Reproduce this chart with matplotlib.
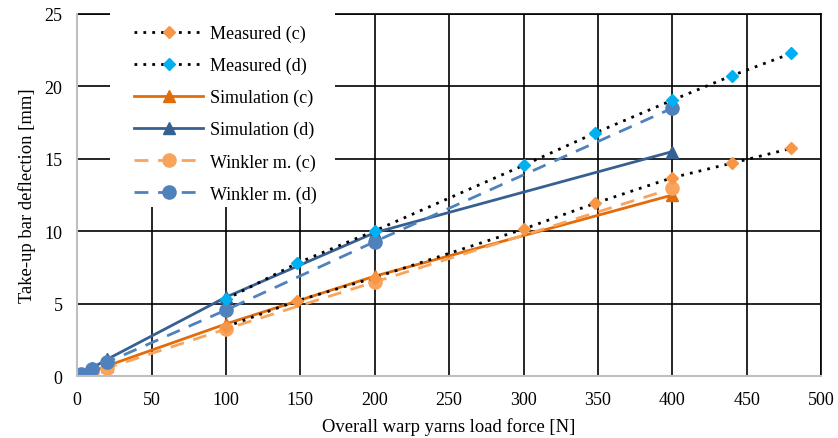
import matplotlib
matplotlib.use("Agg")
import matplotlib.pyplot as plt
from matplotlib.patches import Rectangle

# Data
meas_x = [100, 148, 200, 300, 348, 400, 440, 480]
meas_c = [3.4, 5.2, 6.8, 10.15, 11.93, 13.7, 14.7, 15.72]
meas_d = [5.3, 7.8, 10.03, 14.55, 16.78, 19.05, 20.74, 22.28]

sim_x = [0, 10, 20, 100, 200, 400]
sim_c = [0.0, 0.3, 0.7, 3.6, 6.9, 12.5]
sim_d = [0.0, 0.55, 1.15, 5.45, 9.9, 15.5]

wink_x = [2.5, 10, 20, 100, 200, 400]
wink_c = [0.0, 0.25, 0.55, 3.25, 6.5, 12.95]
wink_d = [0.12, 0.48, 0.95, 4.56, 9.28, 18.5]

xticks = [0, 50, 100, 150, 200, 250, 300, 350, 400, 450, 500]
yticks = [0, 5, 10, 15, 20, 25]

plt.rcParams['font.family'] = ['Liberation Serif', 'DejaVu Serif']

fig = plt.figure(figsize=(8.38, 4.39), dpi=100)
ax = fig.add_axes([0.092, 0.141, 0.888, 0.825])

c_meas_c = '#F79646'
c_meas_d = '#00B0F0'
c_sim_c = '#E36C0A'
c_sim_d = '#376092'
c_wink_c = '#F9A45C'
c_wink_d = '#4F81BD'

ax.plot(meas_x, meas_c, linestyle=(0, (1, 2.2)), color='black', lw=2.0,
        marker='D', markersize=6.5, markerfacecolor=c_meas_c, markeredgecolor=c_meas_c,
        label='Measured (c)', zorder=4)
ax.plot(meas_x, meas_d, linestyle=(0, (1, 2.2)), color='black', lw=2.0,
        marker='D', markersize=6.5, markerfacecolor=c_meas_d, markeredgecolor=c_meas_d,
        label='Measured (d)', zorder=4)
ax.plot(sim_x, sim_c, linestyle='-', color=c_sim_c, lw=2.0,
        marker='^', markersize=8, markerfacecolor=c_sim_c, markeredgecolor=c_sim_c,
        label='Simulation (c)', zorder=3)
ax.plot(sim_x, sim_d, linestyle='-', color=c_sim_d, lw=2.0,
        marker='^', markersize=8, markerfacecolor=c_sim_d, markeredgecolor=c_sim_d,
        label='Simulation (d)', zorder=3)
ax.plot(wink_x, wink_c, linestyle=(0, (5, 3.5)), color=c_wink_c, lw=2.0,
        marker='o', markersize=9.5, markerfacecolor=c_wink_c, markeredgecolor=c_wink_c,
        label='Winkler m. (c)', zorder=3)
ax.plot(wink_x, wink_d, linestyle=(0, (5, 3.5)), color=c_wink_d, lw=2.0,
        marker='o', markersize=9.5, markerfacecolor=c_wink_d, markeredgecolor=c_wink_d,
        label='Winkler m. (d)', zorder=3)

ax.set_xlim(0, 500)
ax.set_ylim(0, 25)
ax.set_xticks(xticks)
ax.set_yticks(yticks)
ax.tick_params(axis='both', length=0, labelsize=13, colors='black')
ax.tick_params(axis='x', pad=11)
ax.tick_params(axis='y', pad=10.5)
ax.grid(True, color='black', lw=1.2, zorder=0)
ax.set_axisbelow(True)

for side in ['top', 'right']:
    ax.spines[side].set_visible(True)
    ax.spines[side].set_color('black')
    ax.spines[side].set_linewidth(1.2)
for side in ['left', 'bottom']:
    ax.spines[side].set_color('#BFBFBF')
    ax.spines[side].set_linewidth(1.5)
    ax.spines[side].set_zorder(5)

ax.set_xlabel('Overall warp yarns load force [N]', fontsize=13.4, labelpad=6)
ax.set_ylabel('Take-up bar deflection [mm]', fontsize=13.4, labelpad=6)

# white legend background area
bg = Rectangle((0.0444, 0.467), 0.3024, 0.545, transform=ax.transAxes,
               facecolor='white', edgecolor='none', zorder=6, clip_on=False)
ax.add_patch(bg)

leg = ax.legend(loc='upper left', bbox_to_anchor=(0.0766, 0.970),
                borderaxespad=0, frameon=False,
                fontsize=13, handlelength=3.83, labelspacing=0.82,
                handletextpad=0.4, borderpad=0)
leg.set_zorder(10)

fig.savefig('out.png', dpi=100)
